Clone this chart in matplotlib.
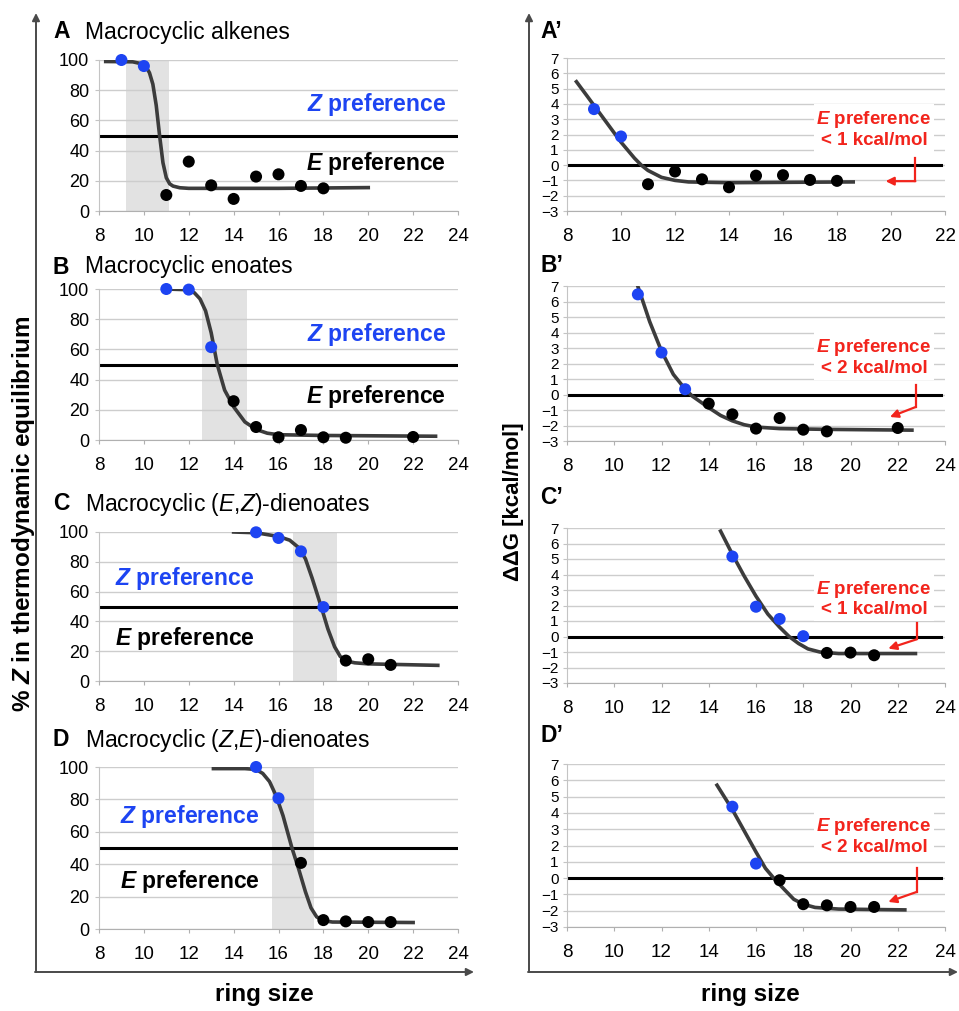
import matplotlib
matplotlib.use("Agg")
import matplotlib.pyplot as plt

plt.rcParams['font.family'] = ['Liberation Sans', 'DejaVu Sans']
plt.rcParams['mathtext.fontset'] = 'custom'
plt.rcParams['mathtext.rm'] = 'Liberation Sans'
plt.rcParams['mathtext.it'] = 'Liberation Sans:italic'
plt.rcParams['mathtext.bf'] = 'Liberation Sans:bold'
plt.rcParams['mathtext.bfit'] = 'Liberation Sans:italic:bold'

BLUE = "#1d44f2"
RED = "#f2241c"
CURVE = "#3c3c3c"
GRID = "#cdcdcd"
SHADE = "#e2e2e2"

# ---- data ----
titles = ["Macrocyclic alkenes", "Macrocyclic enoates",
          r"Macrocyclic ($\mathit{E}$,$\mathit{Z}$)-dienoates",
          r"Macrocyclic ($\mathit{Z}$,$\mathit{E}$)-dienoates"]
letters = ["A", "B", "C", "D"]

ring_A = [9, 10, 11, 12, 13, 14, 15, 16, 17, 18]
pctZ_A = [100, 96, 10.6, 32.7, 17, 8, 22.8, 24.3, 16.6, 15]
ddG_A = [3.66, 1.87, -1.25, -0.42, -0.93, -1.45, -0.69, -0.66, -0.97, -1.03]

ring_B = [11, 12, 13, 14, 15, 16, 17, 18, 19, 22]
pctZ_B = [100, 99.6, 61.5, 25.7, 8.6, 1.8, 6.6, 1.8, 1.5, 2]
ddG_B = [6.46, 2.71, 0.34, -0.59, -1.28, -2.2, -1.52, -2.27, -2.38, -2.16]

ring_C = [15, 16, 17, 18, 19, 20, 21]
pctZ_C = [99.8, 96, 87, 49.6, 13.7, 14.6, 10.8]
ddG_C = [5.16, 1.92, 1.13, 0.02, -1.06, -1.04, -1.21]

ring_D = [15, 16, 17, 18, 19, 20, 21]
pctZ_D = [100, 80.7, 40.8, 5.5, 4.7, 4.3, 4.3]
ddG_D = [4.38, 0.89, -0.13, -1.6, -1.67, -1.77, -1.77]

n_blue = [2, 3, 4, 2]  # leading points with Z preference

# fitted curves
fitx_A = [8.3, 9.5, 9.9, 10.1, 10.25, 10.4, 10.55, 10.7, 10.85, 11.0, 11.15, 11.3, 11.6, 12, 16, 20]
fity_A = [99, 98.8, 97.5, 95.5, 91.5, 84, 70, 50, 32, 22, 18, 16.5, 15.4, 15, 15, 15.5]
fitx_B = [11.0, 12.0, 12.25, 12.5, 12.75, 13.0, 13.27, 13.6, 14.0, 14.5, 15.0, 15.5, 16.0, 18.0, 23.0]
fity_B = [100, 99.5, 97.5, 93.5, 85.5, 71, 50, 33, 22, 12, 7, 4.5, 3.5, 3, 2.5]
fitx_C = [14.0, 15.0, 16.0, 16.5, 16.9, 17.2, 17.5, 17.9, 18.2, 18.5, 18.75, 19.0, 19.4, 20.0, 23.1]
fity_C = [100, 99.5, 97, 94.5, 89.5, 82, 69, 50, 35, 23, 16.5, 13.5, 12.2, 11.5, 10.5]
fitx_D = [13.1, 14.5, 15.0, 15.3, 15.6, 15.9, 16.2, 16.6, 16.9, 17.2, 17.45, 17.7, 18.0, 18.4, 22.0]
fity_D = [99, 99, 98.5, 96, 91, 82, 70, 50, 37, 23, 13, 7.5, 5.2, 4.3, 4.0]

fitdx_A = [8.35, 8.75, 9.0, 9.5, 10.0, 10.5, 10.75, 11.0, 11.5, 12.0, 12.5, 14.0, 18.6]
fitdy_A = [5.45, 4.5, 3.9, 2.7, 1.5, 0.45, 0.0, -0.35, -0.8, -1.0, -1.1, -1.15, -1.1]
fitdx_B = [10.95, 11.5, 12.0, 12.5, 13.0, 13.3, 14.0, 14.5, 15.0, 15.5, 16.0, 17.0, 19.0, 22.6]
fitdy_B = [7.2, 4.7, 2.8, 1.3, 0.35, -0.1, -0.85, -1.35, -1.7, -1.95, -2.1, -2.2, -2.25, -2.3]
fitdx_C = [14.5, 15.0, 15.5, 16.0, 16.5, 17.0, 17.4, 17.8, 18.2, 18.7, 19.5, 22.75]
fitdy_C = [6.8, 5.3, 3.9, 2.6, 1.45, 0.6, 0.0, -0.45, -0.8, -1.0, -1.1, -1.1]
fitdx_D = [14.35, 15.0, 15.5, 16.0, 16.4, 16.75, 17.2, 17.6, 18.0, 18.5, 19.5, 22.3]
fitdy_D = [5.7, 4.2, 2.9, 1.6, 0.6, 0.0, -0.7, -1.3, -1.6, -1.8, -1.9, -1.95]

shade_A = (9.2, 11.1)
shade_B = (12.6, 14.6)
shade_C = (16.65, 18.6)
shade_D = (15.7, 17.6)

dG_limits = ["1", "2", "1", "2"]
xmax_right = [22, 24, 24, 24]

rings = [ring_A, ring_B, ring_C, ring_D]
pcts = [pctZ_A, pctZ_B, pctZ_C, pctZ_D]
ddGs = [ddG_A, ddG_B, ddG_C, ddG_D]
fits_pct = [(fitx_A, fity_A), (fitx_B, fity_B), (fitx_C, fity_C), (fitx_D, fity_D)]
fits_dG = [(fitdx_A, fitdy_A), (fitdx_B, fitdy_B), (fitdx_C, fitdy_C), (fitdx_D, fitdy_D)]
shades = [shade_A, shade_B, shade_C, shade_D]

# ---- layout (figure fractions) ----
W, H = 959, 1011
fig = plt.figure(figsize=(W / 100, H / 100), dpi=100)

left_px = [(60, 211), (289, 440), (532, 681), (767, 929)]
right_px = [(58, 211), (286, 441), (528, 683), (764, 927)]

# where the Z/E labels sit in the left panels: (x, y_Z, y_E, ha)
pref_pos = [(23.46, 70.4, 31.2, 'right'), (23.46, 69.7, 28.8, 'right'),
            (8.71, 68.6, 28.7, 'left'), (8.94, 69.3, 29.3, 'left')]
# red note centre (axes fraction) and elbow arrow (data coords)
note_y = [0.536, 0.542, 0.545, 0.558]
arrows = [((20.9, 0.45), (20.9, -1.05), (19.8, -1.05)),
          ((22.77, 0.6), (22.77, -0.8), (21.67, -1.45)),
          ((22.8, 0.84), (22.8, -0.18), (21.6, -0.78)),
          ((22.8, 0.59), (22.8, -0.85), (21.6, -1.46))]


def style_axes(ax):
    ax.spines['top'].set_visible(False)
    ax.spines['right'].set_visible(False)
    ax.spines['left'].set_color('#c4c4c4')
    ax.spines['bottom'].set_color('#b0b0b0')
    ax.yaxis.grid(True, color=GRID, lw=1.0)
    ax.set_axisbelow(True)
    ax.tick_params(axis='x', length=3, color='#b0b0b0', pad=9, labelsize=13.5)
    ax.tick_params(axis='y', length=3, color='#c4c4c4', pad=4)


for i in range(4):
    blue = n_blue[i]
    colors = [BLUE] * blue + ['black'] * (len(rings[i]) - blue)

    # left: % Z
    top, bot = left_px[i]
    ax = fig.add_axes([99 / W, 1 - bot / H, 359 / W, (bot - top) / H])
    style_axes(ax)
    ax.axvspan(shades[i][0], shades[i][1], color=SHADE, lw=0, zorder=0)
    ax.axhline(50, xmin=0.005, xmax=0.995, color='black', lw=2.2, zorder=2)
    ax.plot(fits_pct[i][0], fits_pct[i][1], color=CURVE, lw=2.6, zorder=3,
            solid_joinstyle='round')
    ax.scatter(rings[i], pcts[i], s=75, c=colors, zorder=4, clip_on=False, lw=0)
    ax.set_xlim(8, 24)
    ax.set_ylim(0, 100)
    ax.set_xticks(range(8, 25, 2))
    ax.set_yticks(range(0, 101, 20))
    ax.tick_params(axis='y', labelsize=13)
    px, yz, ye, ha = pref_pos[i]
    ax.text(px, yz, r"$\mathbfit{Z}$ preference", color=BLUE, fontsize=16.5,
            fontweight='bold', ha=ha, va='center')
    ax.text(px, ye, r"$\mathbfit{E}$ preference", color='black', fontsize=16.5,
            fontweight='bold', ha=ha, va='center')

    # right: ddG
    top, bot = right_px[i]
    ax2 = fig.add_axes([567 / W, 1 - bot / H, 378 / W, (bot - top) / H])
    style_axes(ax2)
    ax2.axhline(0, xmin=0.005, xmax=0.99, color='black', lw=2.2, zorder=2)
    ax2.plot(fits_dG[i][0], fits_dG[i][1], color=CURVE, lw=2.6, zorder=3,
             solid_joinstyle='round')
    ax2.scatter(rings[i], ddGs[i], s=75, c=colors, zorder=4, clip_on=False, lw=0)
    ax2.set_xlim(8, xmax_right[i])
    ax2.set_ylim(-3, 7)
    ax2.set_xticks(range(8, xmax_right[i] + 1, 2))
    ax2.set_yticks(range(-3, 8))
    ax2.tick_params(axis='y', labelsize=11, pad=3)
    ax2.text(0.812, note_y[i],
             r"$\mathbfit{E}$ preference" + "\n< " + dG_limits[i] + " kcal/mol",
             transform=ax2.transAxes, color=RED, fontsize=13.5, fontweight='bold',
             ha='center', va='center', linespacing=1.15, zorder=5,
             bbox=dict(facecolor='white', edgecolor='none', pad=2))
    p0, p1, p2 = arrows[i]
    ax2.plot([p0[0], p1[0]], [p0[1], p1[1]], color=RED, lw=1.6, zorder=5)
    ax2.annotate("", xy=p2, xytext=p1,
                 arrowprops=dict(arrowstyle='-|>', color=RED, lw=1.6,
                                 mutation_scale=12, shrinkA=0, shrinkB=0),
                 zorder=5)

# ---- overlay in pixel coordinates for titles, labels and big arrows ----
ov = fig.add_axes([0, 0, 1, 1], facecolor='none')
ov.set_xlim(0, W)
ov.set_ylim(H, 0)
ov.axis('off')

title_y = [32, 267, 504, 740]
right_letter_y = [32, 265, 497, 735]
for i in range(4):
    ov.text(53, title_y[i], letters[i], fontsize=16.5, fontweight='bold',
            ha='left', va='center')
    ov.text(85, title_y[i], titles[i], fontsize=16.5, ha='left', va='center')
    ov.text(540, right_letter_y[i], letters[i] + "\u2019", fontsize=16.5,
            fontweight='bold', ha='left', va='center')

arrow_kw = dict(arrowstyle='-|>', color='#4a4a4a', lw=1.4, mutation_scale=11,
                shrinkA=0, shrinkB=0)
for x0, x1 in [(36, 474), (529, 958)]:
    ov.annotate("", xy=(x0, 13), xytext=(x0, 972), arrowprops=arrow_kw)
    ov.annotate("", xy=(x1, 972), xytext=(x0 - 1, 972), arrowprops=arrow_kw)

ov.text(24, 514, r"% $\mathbfit{Z}$ in thermodynamic equilibrium", fontsize=17.5,
        fontweight='bold', rotation=90, ha='center', va='center')
ov.text(513, 502, "\u0394\u0394G [kcal/mol]", fontsize=16, fontweight='bold',
        rotation=90, ha='center', va='center')
ov.text(264, 995, "ring size", fontsize=17.5, fontweight='bold', ha='center', va='center')
ov.text(750, 995, "ring size", fontsize=17.5, fontweight='bold', ha='center', va='center')

plt.savefig('out.png', dpi=100)
